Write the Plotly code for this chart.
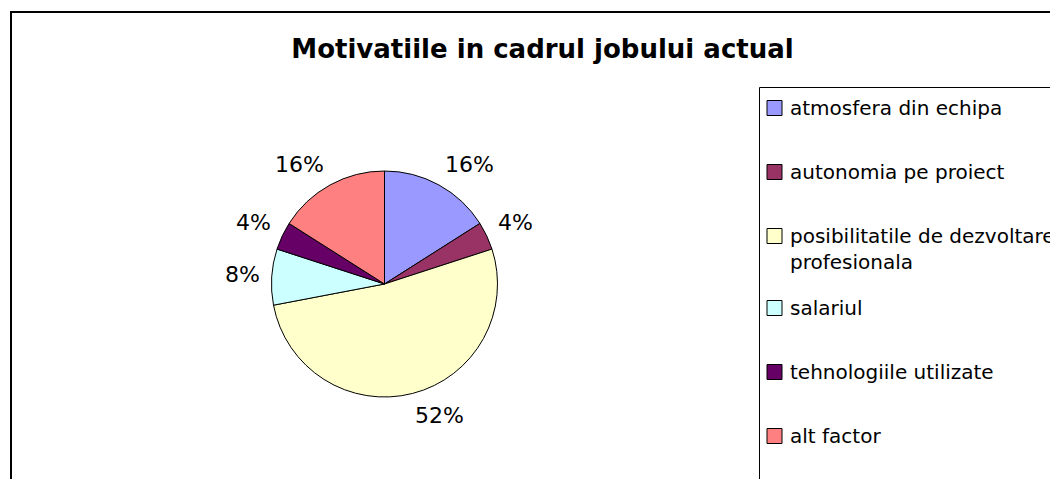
import math
import textwrap
import plotly.graph_objects as go

# Survey answers: what motivates people in their current job (% of respondents)
categories = [
    "atmosfera din echipa",
    "autonomia pe proiect",
    "posibilitatile de dezvoltare profesionala",
    "salariul",
    "tehnologiile utilizate",
    "alt factor",
]
shares = [16, 4, 52, 8, 4, 16]
slice_colors = ["#9999FF", "#993366", "#FFFFCC", "#CCFFFF", "#660066", "#FF8080"]
chart_title = "Motivatiile in cadrul jobului actual"

W, H = 1050, 479
FONT = "DejaVu Sans, Arial, sans-serif"


def px_x(x):
    return x / W


def px_y(y):
    return 1 - y / H


# pie box: centre (384.5, 284), radius 113
cx, cy, r = 384.5, 284, 113

fig = go.Figure()
fig.add_trace(
    go.Pie(
        labels=categories,
        values=shares,
        sort=False,
        direction="clockwise",
        rotation=0,
        marker=dict(colors=slice_colors, line=dict(color="black", width=1)),
        textinfo="none",
        showlegend=False,
        hoverinfo="label+percent",
        domain=dict(
            x=[px_x(cx - r), px_x(cx + r)],
            y=[px_y(cy + r), px_y(cy - r)],
        ),
    )
)

annotations = []

# percentage labels just outside each slice, along the slice's mid-angle
label_size = 22
label_gap = 125
total = sum(shares)
acc = 0
for s in shares:
    theta = 2 * math.pi * (acc + s / 2) / total
    acc += s
    sx, sy = math.sin(theta), -math.cos(theta)
    txt = f"{round(100 * s / total)}%"
    w = label_size * (0.636 * (len(txt) - 1) + 0.95)
    h = 20
    ox = math.copysign(min(1, abs(sx) / 0.25), sx) * w / 2
    oy = math.copysign(min(1, abs(sy) / 0.5), sy) * h / 2
    annotations.append(dict(
        xref="paper", yref="paper",
        x=px_x(cx + label_gap * sx + ox), y=px_y(cy + label_gap * sy + oy),
        xanchor="center", yanchor="middle", showarrow=False,
        text=txt, font=dict(family=FONT, size=label_size, color="black"),
    ))

shapes = [
    # outer chart frame (right and bottom edges run off the page)
    dict(type="rect", xref="paper", yref="paper",
         x0=px_x(11), x1=1.05, y0=-0.05, y1=px_y(12),
         line=dict(color="black", width=2), fillcolor="rgba(0,0,0,0)"),
    # legend frame
    dict(type="rect", xref="paper", yref="paper",
         x0=px_x(759.5), x1=1.05, y0=-0.05, y1=px_y(87.5),
         line=dict(color="black", width=1), fillcolor="rgba(0,0,0,0)"),
]

# legend rows: square swatch + label, one row per category
row_y = 108
row_step = 64
wrap_extra = 8
sw = 15
for name, color in zip(categories, slice_colors):
    lines = textwrap.wrap(name, 28)
    shapes.append(dict(
        type="rect", xref="paper", yref="paper",
        x0=px_x(767), x1=px_x(767 + sw),
        y0=px_y(row_y + sw / 2), y1=px_y(row_y - sw / 2),
        fillcolor=color, line=dict(color="black", width=1),
    ))
    annotations.append(dict(
        xref="paper", yref="paper", x=px_x(788), y=px_y(row_y - 14),
        xanchor="left", yanchor="top", align="left", showarrow=False,
        text="<br>".join(lines),
        font=dict(family=FONT, size=20, color="black"),
    ))
    row_y += row_step + (wrap_extra if len(lines) > 1 else 0)

fig.update_layout(
    width=W,
    height=H,
    autosize=False,
    margin=dict(l=0, r=0, t=0, b=0),
    paper_bgcolor="white",
    plot_bgcolor="white",
    title=dict(
        text=chart_title,
        x=px_x(542.5), xanchor="center",
        y=px_y(49), yanchor="middle", yref="container",
        font=dict(family=FONT, size=26, color="black", weight="bold"),
    ),
    shapes=shapes,
    annotations=annotations,
)

fig.write_html("out.html", config={"displayModeBar": False})
